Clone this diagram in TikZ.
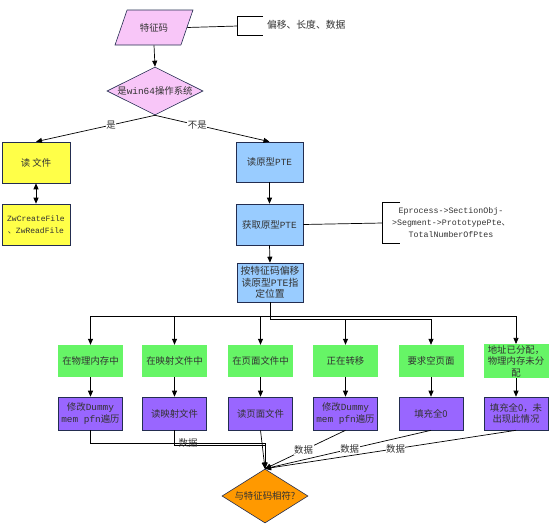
\documentclass[tikz,border=0pt]{standalone}
\usepackage{fontspec}
\setmainfont{Noto Sans CJK SC}
\newfontfamily\mono{Liberation Mono}
\usetikzlibrary{shapes.geometric,arrows.meta,calc}
\definecolor{cpink}{RGB}{248,198,248}
\definecolor{cyel}{RGB}{255,255,72}
\definecolor{cblue}{RGB}{153,204,255}
\definecolor{cgreen}{RGB}{102,245,102}
\definecolor{cpurp}{RGB}{153,102,255}
\definecolor{corange}{RGB}{255,153,0}
\definecolor{cedge}{RGB}{35,45,80}
\definecolor{ctext}{RGB}{50,50,50}
\begin{document}
\begin{tikzpicture}[x=1pt,y=-1pt,
  every node/.style={text=ctext,font=\fontsize{9.4}{11.5}\selectfont},
  boxA/.style={rectangle,draw=cedge,line width=0.6pt,minimum width=67,minimum height=40,inner sep=1,align=center},
  yelbox/.style={boxA,fill=cyel},
  bluebox/.style={boxA,fill=cblue},
  grnbox/.style={rectangle,fill=cgreen,minimum width=65,minimum height=32,inner sep=1,align=center},
  purbox/.style={boxA,fill=cpurp,minimum width=64,minimum height=33},
  arr/.style={draw=black,line width=0.7pt,-{Triangle[length=6pt,width=5pt]}},
  plain/.style={draw=black,line width=0.7pt},
  lbl/.style={fill=white,inner sep=0.5pt},
  brk/.style={rectangle,minimum width=#1,inner sep=0},
]
\useasboundingbox (0,0) rectangle (552,525);

% top
\node[trapezium,trapezium left angle=63,trapezium right angle=117,trapezium stretches=true,
  minimum width=78,minimum height=35,draw=cedge,fill=cpink,line width=0.6pt] (p) at (154,27.5) {特征码};
\node[brk=25,minimum height=18] (b1) at (250.5,26) {};
\node[anchor=west,font=\fontsize{9.8}{12}\selectfont] (t1) at (263.5,25) {偏移、长度、数据};
\draw[plain] (b1.north east) -- (b1.north west) -- (b1.south west) -- (b1.south east);
\draw[plain] (p.east) -- (b1.west);

\node[diamond,aspect=2,minimum width=96,minimum height=48,inner sep=0,draw=cedge,fill=cpink,line width=0.6pt] (d1) at (155,91) {是{\mono win64}操作系统};
\draw[arr] (p.south) -- (d1.north);

% left branch
\node[yelbox,minimum width=68,minimum height=41] (rf) at (36,162.5) {读 文件};
\node[yelbox,minimum width=68,minimum height=41,font=\mono\fontsize{8}{12}\selectfont] (zw) at (36,224.5) {ZwCreateFile\\{\fontspec{Noto Sans CJK SC}、}ZwReadFile};
\draw[arr] (d1.south) -- node[lbl,pos=0.37] {是} (rf.north);
\draw[draw=black,line width=0.9pt,{Triangle[length=6pt,width=5pt]}-{Triangle[length=6pt,width=5pt]}] (rf.south) -- (zw.north);

% right branch
\node[bluebox] (rp) at (269.5,162) {读原型{\mono PTE}};
\node[bluebox,minimum height=41] (gp) at (269.5,224.5) {获取原型{\mono PTE}};
\node[bluebox,minimum width=66,minimum height=39,font=\fontsize{9.8}{11.5}\selectfont] (loc) at (270,282.5) {按特征码偏移\\读原型{\mono PTE}指\\定位置};
\draw[arr] (d1.south) -- node[lbl,pos=0.37] {不是} (rp.north);
\draw[arr] (rp.south) -- (gp.north);
\draw[arr] (gp.south) -- (loc.north);

\node[brk=17,minimum height=40] (b2) at (391.5,223) {};
\node[align=center,font=\mono\fontsize{8.3}{12}\selectfont] (t2) at (451,223) {Eprocess->SectionObj-\\>Segment->PrototypePte{\fontspec{Noto Sans CJK SC}、}\\TotalNumberOfPtes};
\draw[plain] (b2.north east) -- (b2.north west) -- (b2.south west) -- (b2.south east);
\draw[plain] (gp.east) -- (b2.west);

% green row
\node[grnbox] (g1) at (90.5,361) {在物理内存中};
\node[grnbox] (g2) at (174.5,361) {在映射文件中};
\node[grnbox] (g3) at (260.5,361) {在页面文件中};
\node[grnbox] (g4) at (345.5,361) {正在转移};
\node[grnbox] (g5) at (431,361) {要求空页面};
\node[grnbox] (g6) at (516,361) {地址已分配，\\物理内存未分\\配};

\draw[arr] (loc.south) -- ++(0,14) -| (g1.north);
\draw[arr] (loc.south) -- ++(0,14) -| (g2.north);
\draw[arr] (loc.south) -- ++(0,14) -| (g3.north);
\draw[arr] (loc.south) -- ++(0,17) -| (g4.north);
\draw[arr] (loc.south) -- ++(0,17) -| (g5.north);
\draw[arr] (loc.south) -- ++(0,14) -| (g6.north);

% purple row
\node[purbox] (u1) at (90.5,413.5) {修改{\mono Dummy}\\{\mono mem pfn}遍历};
\node[purbox] (u2) at (174.5,413.5) {读映射文件};
\node[purbox] (u3) at (260.5,413.5) {读页面文件};
\node[purbox] (u4) at (345.5,413.5) {修改{\mono Dummy}\\{\mono mem pfn}遍历};
\node[purbox] (u5) at (431,413.5) {填充全0};
\node[purbox] (u6) at (516,413.5) {填充全0，未\\出现此情况};
\foreach \i in {1,...,6} {\draw[arr] (g\i.south) -- (u\i.north);}

% bottom diamond
\node[diamond,aspect=1.6,minimum width=86,minimum height=54,inner sep=0,draw=cedge,fill=corange,line width=0.6pt] (d2) at (265,496) {与特征码相符?};

\draw[arr] (u1.south) -- ++(0,13) -| (d2.north);
\draw[arr] (u2.south) -- ++(0,15) -| (d2.north);
\node at (188,443) {数据};
\draw[arr] (u3.south) -- (d2.north);
\draw[arr] (u4.south) -- node[lbl,pos=0.52] {数据} (d2.north);
\draw[arr] (u5.south) -- node[lbl,pos=0.49] {数据} (d2.north);
\draw[arr] (u6.south) -- node[lbl,pos=0.48] {数据} (d2.north);
\end{tikzpicture}
\end{document}
